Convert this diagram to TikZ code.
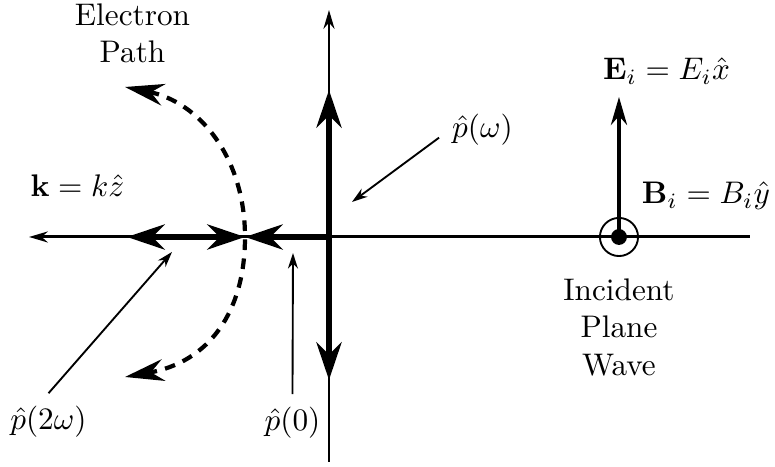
\documentclass[tikz,border=0pt]{standalone}
\usepackage{amsmath,amssymb}
\usetikzlibrary{arrows.meta,positioning}
\begin{document}
\begin{tikzpicture}[x=1.125mm,y=1.125mm,
axis/.style={line width=0.95pt,-{Stealth[length=6pt,width=3.5pt]}},
vec/.style={line width=1.9pt,>={Stealth[length=12pt,width=8pt]}},
ptr/.style={line width=0.6pt,-{Stealth[length=5pt,width=3.2pt]}},
epath/.style={line width=1.35pt,dash pattern=on 3.4pt off 2.7pt,>={Stealth[length=12.5pt,width=7pt]}},
lbl/.style={inner sep=4pt}]
\useasboundingbox (-32.9,-23.0) rectangle (44.6,23.7);
\coordinate (O) at (0,0);
\coordinate (zL) at (-30,0);
\coordinate (zR) at (42.1,0);
\coordinate (xT) at (0,22.7);
\coordinate (xB) at (0,-22.5);
\coordinate (pole) at (-8.4,0);
\coordinate (k2) at (-20.2,0);
\coordinate (pwT) at (0,14.7);
\coordinate (pwB) at (0,-14.3);
\coordinate (eT) at (-20.4,15.0);
\coordinate (eB) at (-20.4,-14.0);
\coordinate (Etip) at (29,14.0);
\draw[axis] (zR) -- (zL);
\draw[axis] (xB) -- (xT);
\draw[vec,<->] (pwB) -- (pwT);
\draw[vec,<->] (k2) -- (pole);
\draw[vec,->] (O) -- (pole);
\draw[epath,<->] (eT) .. controls (-13,13.5) and (-8.4,8) .. (pole) .. controls (-8.4,-7.5) and (-12,-12.5) .. (eB);
\node[circle,draw,line width=0.6pt,inner sep=0pt,minimum size=12.2pt] (bc) at (29,0) {};
\node[circle,fill,inner sep=0pt,minimum size=5.1pt] (bdot) at (bc) {};
\draw[line width=1pt,-{Stealth[length=9pt,width=5.2pt]}] (bdot.center) -- (Etip);
\node[lbl] (lk) at (-25.15,5.15) {$\mathbf{k}=k\hat{z}$};
\node[lbl,align=center] (lep) at (-19.65,20.35) {Electron\\Path};
\node[lbl] (lE) at (33.75,16.6) {$\mathbf{E}_i=E_i\hat{x}$};
\node[lbl] (lB) at (37.7,4.1) {$\mathbf{B}_i=B_i\hat{y}$};
\node[lbl,align=center] (lipw) at (29,-9.05) {Incident\\Plane\\Wave};
\node[lbl] (lw) at (15.35,10.7) {$\hat{p}(\omega)$};
\node[lbl] (l2w) at (-28.05,-18.5) {$\hat{p}(2\omega)$};
\node[lbl] (l0) at (-3.65,-18.6) {$\hat{p}(0)$};
\coordinate (aw) at (2.3,3.5);
\coordinate (a2w) at (-15.7,-1.5);
\coordinate (a0) at (-3.6,-1.6);
\draw[ptr] (lw.190) -- (aw);
\draw[ptr] (l2w.north) -- (a2w);
\draw[ptr] (l0.north) -- (a0);
\end{tikzpicture}
\end{document}
